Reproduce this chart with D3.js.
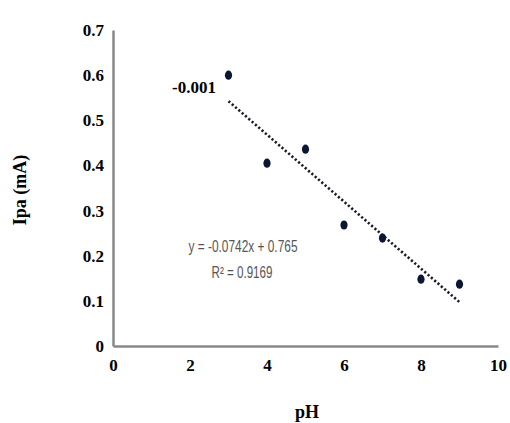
<!DOCTYPE html>
<html><head><meta charset="utf-8">
<script src="https://cdn.jsdelivr.net/npm/d3@7"></script>
<style>body{margin:0;background:#fff}svg{display:block}</style>
</head><body>
<script>
const phValues = [3, 4, 5, 6, 7, 8, 9];
const ipaValues = [0.600, 0.405, 0.436, 0.268, 0.239, 0.148, 0.137];
const xTicks = [0, 2, 4, 6, 8, 10];
const yTicks = [0, 0.1, 0.2, 0.3, 0.4, 0.5, 0.6, 0.7];
const trendSlope = -0.0742, trendIntercept = 0.765;
const trendRange = [3, 9];
const eqLabel = "y = -0.0742x + 0.765";
const r2Label = "R² = 0.9169";
const annotation = "-0.001";

const W = 510, H = 423;
const svg = d3.select("body").append("svg").attr("width", W).attr("height", H);
const x = d3.scaleLinear().domain([0, 10]).range([113, 498]);
const y = d3.scaleLinear().domain([0, 0.7]).range([346, 30]);
const serif = "'Liberation Serif','Times New Roman',serif";

// axes
const xAxis = svg.append("g").attr("transform", `translate(0,${y(0)})`)
  .call(d3.axisBottom(x).tickValues(xTicks).tickSize(0).tickPadding(13).tickFormat(d3.format("d")));
xAxis.select(".domain").attr("stroke", "#888").attr("stroke-width", 2.5);
const yAxis = svg.append("g").attr("transform", `translate(${x(0)},0)`)
  .call(d3.axisLeft(y).tickValues(yTicks).tickSize(0).tickPadding(9).tickFormat(d => d === 0 ? "0" : d3.format(".1f")(d)));
yAxis.select(".domain").attr("stroke", "#888").attr("stroke-width", 2.5);
svg.selectAll(".tick text").attr("font-family", serif).attr("font-weight", "bold")
  .attr("font-size", 17).attr("fill", "#000");

// trend line
svg.append("line")
  .attr("x1", x(trendRange[0])).attr("y1", y(trendSlope * trendRange[0] + trendIntercept))
  .attr("x2", x(trendRange[1])).attr("y2", y(trendSlope * trendRange[1] + trendIntercept))
  .attr("stroke", "#1a1a2a").attr("stroke-width", 2.6).attr("stroke-dasharray", "2.2,2.2");

// points
svg.selectAll("ellipse.pt").data(phValues).enter().append("ellipse").attr("class", "pt")
  .attr("cx", d => x(d)).attr("cy", (d, i) => y(ipaValues[i]))
  .attr("rx", 3.6).attr("ry", 4.6).attr("fill", "#0b1633");

// equation
const narrow = "'Liberation Sans Narrow','Arial Narrow','Liberation Sans',sans-serif";
svg.append("text").attr("x", 243).attr("y", 252).attr("text-anchor", "middle")
  .attr("font-family", narrow).attr("font-size", 16).attr("fill", "#555")
  .attr("textLength", 109).attr("lengthAdjust", "spacingAndGlyphs").text(eqLabel);
svg.append("text").attr("x", 242).attr("y", 278).attr("text-anchor", "middle")
  .attr("font-family", narrow).attr("font-size", 16).attr("fill", "#555")
  .attr("textLength", 61).attr("lengthAdjust", "spacingAndGlyphs").text(r2Label);

// annotation
svg.append("text").attr("x", 216).attr("y", 93).attr("text-anchor", "end")
  .attr("font-family", serif).attr("font-weight", "bold").attr("font-size", 17).text(annotation);

// axis titles
svg.append("text").attr("x", 307).attr("y", 418).attr("text-anchor", "middle")
  .attr("font-family", serif).attr("font-weight", "bold").attr("font-size", 18).text("pH");
svg.append("text").attr("transform", "translate(26,190) rotate(-90)").attr("text-anchor", "middle")
  .attr("font-family", serif).attr("font-weight", "bold").attr("font-size", 18).text("Ipa (mA)");
</script>
</body></html>
